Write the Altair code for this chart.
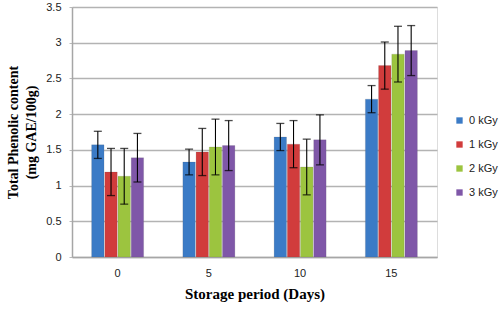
import altair as alt
import pandas as pd

days = ["0", "5", "10", "15"]
doses = ["0 kGy", "1 kGy", "2 kGy", "3 kGy"]
mean_0 = [1.57, 1.33, 1.68, 2.21]
mean_1 = [1.19, 1.47, 1.58, 2.68]
mean_2 = [1.13, 1.54, 1.26, 2.84]
mean_3 = [1.39, 1.56, 1.64, 2.89]
err_0 = [0.19, 0.18, 0.19, 0.19]
err_1 = [0.33, 0.33, 0.33, 0.33]
err_2 = [0.39, 0.39, 0.39, 0.39]
err_3 = [0.34, 0.35, 0.35, 0.35]
y_ticks = [0, 0.5, 1, 1.5, 2, 2.5, 3, 3.5]
colors = ["#3b7bc6", "#d13c3c", "#9cc43f", "#7f57a8"]

means = [mean_0, mean_1, mean_2, mean_3]
errs = [err_0, err_1, err_2, err_3]
rows = []
for di, dose in enumerate(doses):
    for i, d in enumerate(days):
        m = means[di][i]
        e = errs[di][i]
        rows.append({"day": d, "dose": dose, "value": m, "lo": m - e, "hi": m + e})
df = pd.DataFrame(rows)

serif = "Liberation Serif"
sans = "Liberation Sans"

yscale = alt.Scale(domain=[0, 3.5], nice=False)
y_title = ["Total  Phenolic content", "(mg GAE/100g)"]


def y_axis():
    return alt.Axis(
        values=y_ticks,
        format=".2~f",
        labelOverlap=False,
        title=y_title,
        titleFont=serif,
        titleFontSize=14,
        titleFontWeight="bold",
        titleColor="black",
        titlePadding=7,
        titleLineHeight=18,
        labelFont=sans,
        labelFontSize=11,
        labelColor="#222222",
        labelPadding=8,
        tickSize=3,
        tickColor="#bbbbbb",
        domainColor="#a6a6a6",
        domainWidth=1.5,
        grid=True,
        gridColor="#b3b3b3",
        gridWidth=1.5,
    )


base = alt.Chart(df).encode(
    x=alt.X(
        "day:N",
        sort=days,
        scale=alt.Scale(paddingInner=0.43, paddingOuter=0.215),
        axis=alt.Axis(
            title="Storage period (Days)",
            labelAngle=0,
            labelFont=sans,
            labelFontSize=11,
            labelColor="#222222",
            labelPadding=10,
            ticks=False,
            domainColor="#a6a6a6",
            domainWidth=1.5,
            titleFont=serif,
            titleFontSize=15,
            titleFontWeight="bold",
            titleColor="black",
            titlePadding=8,
        ),
    ),
    xOffset=alt.XOffset("dose:N", sort=doses, scale=alt.Scale(paddingInner=0.06)),
)

bars = base.mark_bar(stroke="#555555", strokeWidth=0.3, strokeOpacity=0.5).encode(
    y=alt.Y("value:Q", scale=yscale, axis=y_axis()),
    color=alt.Color(
        "dose:N",
        sort=doses,
        scale=alt.Scale(domain=doses, range=colors),
        legend=alt.Legend(
            title=None,
            orient="none",
            legendX=382,
            legendY=108,
            symbolType="square",
            symbolSize=40,
            symbolStrokeWidth=0,
            labelFont=sans,
            labelFontSize=11,
            labelColor="#222222",
            rowPadding=12,
            labelOffset=4,
        ),
    ),
)

rules = base.mark_rule(color="black", strokeWidth=1.1).encode(
    y=alt.Y("lo:Q", scale=yscale, axis=y_axis()), y2="hi:Q"
)
cap_hi = base.mark_tick(orient="horizontal", size=8, thickness=1.3, color="black").encode(
    y=alt.Y("hi:Q", scale=yscale, axis=y_axis())
)
cap_lo = base.mark_tick(orient="horizontal", size=8, thickness=1.3, color="black").encode(
    y=alt.Y("lo:Q", scale=yscale, axis=y_axis())
)

chart = (
    alt.layer(bars, rules, cap_hi, cap_lo)
    .properties(
        width=365,
        height=250,
        autosize=alt.AutoSizeParams(type="none"),
        padding={"left": 72, "top": 7, "right": 63, "bottom": 52},
    )
    .configure_view(stroke=None)
    .configure(background="white")
)

chart.save("out.html", embed_options={"renderer": "svg", "actions": False})
